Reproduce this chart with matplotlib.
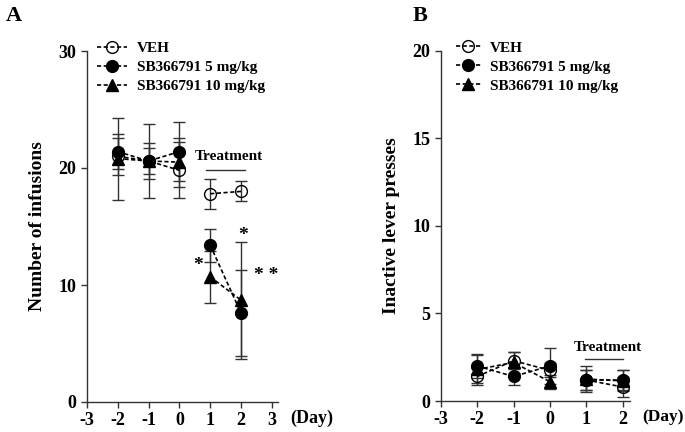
import matplotlib
matplotlib.use("Agg")
import matplotlib.pyplot as plt
import numpy as np

plt.rcParams['font.family'] = ['Liberation Serif', 'DejaVu Serif']
plt.rcParams['font.weight'] = 'bold'
plt.rcParams['axes.unicode_minus'] = False

# ---- Data panel A (Number of infusions) ----
days_a = [-2, -1, 0, 1, 2]
veh_a = [21.0, 20.6, 19.8, 17.8, 18.0]
veh_a_err = [1.6, 3.2, 2.4, 1.3, 0.85]
sb5_a = [21.4, 20.6, 21.4, 13.4, 7.6]
sb5_a_err = [1.5, 1.1, 2.5, 1.4, 3.7]
sb10_a = [20.8, 20.6, 20.5, 10.7, 8.7]
sb10_a_err = [3.5, 1.5, 2.1, 2.2, 5.0]

# ---- Data panel B (Inactive lever presses) ----
days_b = [-2, -1, 0, 1, 2]
veh_b = [1.4, 2.3, 1.75, 1.2, 0.8]
veh_b_err = [0.5, 0.5, 0.4, 0.55, 0.55]
sb5_b = [2.0, 1.4, 2.0, 1.2, 1.2]
sb5_b_err = [0.7, 0.5, 1.05, 0.55, 0.55]
sb10_b = [1.8, 2.2, 1.1, 1.25, 1.15]
sb10_b_err = [0.8, 0.6, 0.4, 0.75, 0.6]

labels = ['VEH', 'SB366791 5 mg/kg', 'SB366791 10 mg/kg']
n_pre = 3  # days -2, -1, 0 are baseline; 1, 2 treatment (separate line segments)

fig = plt.figure(figsize=(6.85, 4.32), dpi=100)
axA = fig.add_axes([87/685, 30/432, 191/685, 351/432])
axB = fig.add_axes([440.7/685, 31/432, 189.3/685, 350.3/432])

ls = (0, (2.5, 1.5))
ecol = '#333333'

def draw(ax, x, ys, errs):
    styles = [dict(marker='o', mfc='none', mec='black', mew=1.0),
              dict(marker='o', mfc='black', mec='black'),
              dict(marker='^', mfc='black', mec='black')]
    hs = []
    x = np.asarray(x)
    for y, e, st, lab in zip(ys, errs, styles, labels):
        y = np.asarray(y)
        ax.errorbar(x, y, yerr=e, fmt='none', ecolor=ecol, elinewidth=1.0,
                    capsize=4.5, capthick=1.0, zorder=2)
        h, = ax.plot(x[:n_pre], y[:n_pre], color='black', linestyle=ls, linewidth=1.2,
                     markersize=8.5, label=lab, zorder=3, **st)
        ax.plot(x[n_pre:], y[n_pre:], color='black', linestyle=ls, linewidth=1.2,
                markersize=8.5, zorder=3, **st)
        hs.append(h)
    return hs

def style(ax, xlim, ylim, yticks, xticks):
    ax.set_xlim(*xlim)
    ax.set_ylim(*ylim)
    ax.set_yticks(yticks)
    ax.set_xticks(xticks)
    for s in ['top', 'right']:
        ax.spines[s].set_visible(False)
    for s in ['left', 'bottom']:
        ax.spines[s].set_linewidth(1.0)
        ax.spines[s].set_color('#333333')
    ax.tick_params(direction='out', length=4, width=1.0, labelsize=13, color='#333333')
    for t in ax.get_xticklabels() + ax.get_yticklabels():
        t.set_fontweight('bold')

# Panel A
hsA = draw(axA, days_a, [veh_a, sb5_a, sb10_a], [veh_a_err, sb5_a_err, sb10_a_err])
style(axA, (-3, 3.2), (0, 30), [0, 10, 20, 30], [-3, -2, -1, 0, 1, 2, 3])
axA.set_ylabel('Number of infusions', fontsize=14, fontweight='bold', labelpad=9)
axA.legend(handles=hsA, loc='upper left', bbox_to_anchor=(0.02, 1.045), frameon=False,
           prop=dict(size=11, weight='bold'), handlelength=2.0, handletextpad=0.6,
           labelspacing=0.35, borderaxespad=0)
axA.text(1.6, 21.0, 'Treatment', ha='center', va='center', fontsize=11, fontweight='bold')
axA.plot([0.85, 2.13], [19.8, 19.8], color='#333333', lw=1.0)
axA.text(0.62, 11.7, '*', ha='center', va='center', fontsize=14, fontweight='bold')
axA.text(2.05, 14.2, '*', ha='center', va='center', fontsize=14, fontweight='bold')
axA.text(2.82, 10.8, '* *', ha='center', va='center', fontsize=14, fontweight='bold')
axA.text(1.063, -16/351, '(Day)', transform=axA.transAxes, ha='left', va='center',
         fontsize=13, fontweight='bold')

# Panel B
hsB = draw(axB, days_b, [veh_b, sb5_b, sb10_b], [veh_b_err, sb5_b_err, sb10_b_err])
style(axB, (-3, 2.2), (0, 20), [0, 5, 10, 15, 20], [-3, -2, -1, 0, 1, 2])
axB.set_ylabel('Inactive lever presses', fontsize=14, fontweight='bold', labelpad=9)
axB.legend(handles=hsB, loc='upper left', bbox_to_anchor=(0.05, 1.045), frameon=False,
           prop=dict(size=11, weight='bold'), handlelength=1.6, handletextpad=0.6,
           labelspacing=0.35, borderaxespad=0)
axB.text(1.6, 3.05, 'Treatment', ha='center', va='center', fontsize=11, fontweight='bold')
axB.plot([0.96, 2.0], [2.4, 2.4], color='#333333', lw=1.0)
axB.text(1.065, -16/350, '(Day)', transform=axB.transAxes, ha='left', va='center',
         fontsize=12.5, fontweight='bold')

fig.text(14/685, 1 - 16/432, 'A', ha='center', va='center', fontsize=16, fontweight='bold')
fig.text(420/685, 1 - 16/432, 'B', ha='center', va='center', fontsize=16, fontweight='bold')

fig.savefig('out.png', dpi=100)
